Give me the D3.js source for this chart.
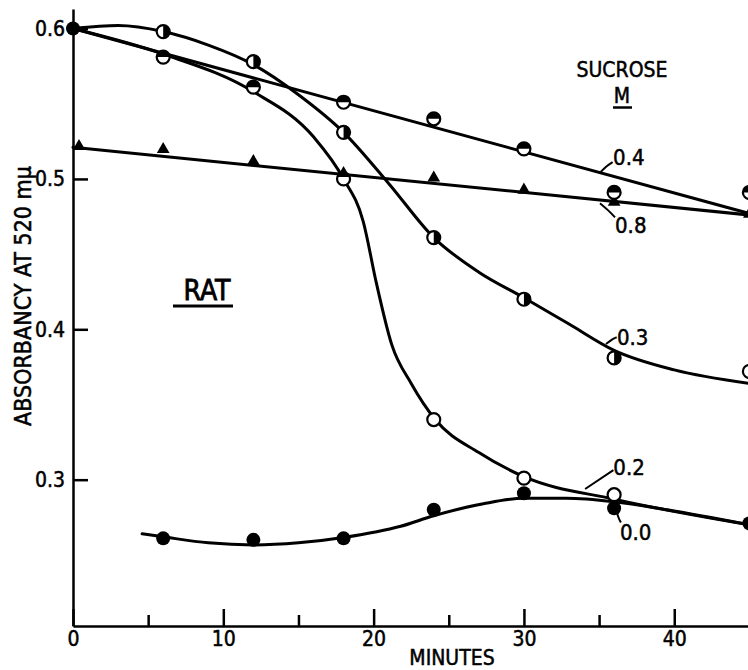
<!DOCTYPE html>
<html>
<head>
<meta charset="utf-8">
<script src="https://cdn.jsdelivr.net/npm/d3@7"></script>
<style>
    body { margin: 0; background: #fff; overflow: hidden; }
    svg { display: block; }
</style>
</head>
<body>
<svg id="chart" width="748" height="670"></svg>
<script>
// marker times (minutes) and absorbancy values
const minutes = [6, 12, 18, 24, 30, 36, 45];
const pts04 = [0.581, 0.561, 0.551, 0.540, 0.520, 0.491, 0.491];
const pts03 = [0.598, 0.578, 0.531, 0.461, 0.420, 0.381, 0.372];
const pts00 = [0.261, 0.260, 0.261, 0.280, 0.291, 0.281, 0.271];
const times02 = [18, 24, 30, 36];
const pts02 = [0.500, 0.340, 0.301, 0.290];
const times08 = [0.4, 6, 12, 18, 24, 30, 36, 45];
const pts08 = [0.521, 0.519, 0.511, 0.503, 0.500, 0.492, 0.484, 0.476];
const startPoint = [0, 0.6];

// fitted lines / curves as drawn in the figure
const line04 = { t: [0, 45], v: [0.6, 0.477] };
const line08 = { t: [0, 45], v: [0.521, 0.476] };
const curve03 = {
    t: [0, 3, 6, 9, 12, 15, 18, 21, 24, 27, 30, 33, 36, 40, 45],
    v: [0.6, 0.602, 0.598, 0.589, 0.576, 0.556, 0.531, 0.497, 0.461, 0.438, 0.421, 0.4035, 0.386, 0.373, 0.364],
};
const curve02 = {
    t: [0, 6, 12, 16, 18, 19.3, 20.2, 21.2, 22.5, 24.1, 27, 30, 36, 45],
    v: [0.6, 0.583, 0.558, 0.528, 0.5, 0.472, 0.43, 0.39, 0.364, 0.34, 0.318, 0.302, 0.287, 0.27],
};
const curve00 = {
    t: [4.6, 6, 9, 12, 15, 18.1, 21.8, 24, 27.3, 30, 32.8, 36, 39.5, 45],
    v: [0.264, 0.262, 0.258, 0.2566, 0.258, 0.2617, 0.269, 0.276, 0.284, 0.2876, 0.2876, 0.2853, 0.28, 0.27],
};

const xMajor = [0, 10, 20, 30, 40];
const xMinor = [5, 15, 25, 35];
const yTicks = [0.3, 0.4, 0.5, 0.6];

// curve labels: text anchor and leader line, in data units
const labels = [
    { text: '0.4', t: 35.93, v: 0.5092, lead: [[35.1, 0.5045], [35.45, 0.5083], [35.9, 0.5112]] },
    { text: '0.8', t: 36.06, v: 0.464, lead: [[35.06, 0.4838], [35.6, 0.4793], [36.06, 0.4745]] },
    { text: '0.3', t: 36.19, v: 0.3895, lead: [[35.46, 0.3902], [35.84, 0.3933], [36.17, 0.3947]] },
    { text: '0.2', t: 35.95, v: 0.303, lead: [[34.07, 0.2938], [35.95, 0.3064]] },
    { text: '0.0', t: 36.39, v: 0.2599, lead: [[36.2, 0.2775], [36.3, 0.2745], [36.45, 0.2715]] },
];

const font = "'DejaVu Sans Condensed', 'Liberation Sans Narrow', 'Liberation Sans', sans-serif";
const svg = d3.select('#chart');

const x = d3.scaleLinear().domain([0, 45]).range([73, 749.4]);
const y = d3.scaleLinear().domain([0.2027, 0.613]).range([626, 9]);

// axes
const xAxis = svg.append('g')
    .attr('transform', 'translate(0,626)')
    .call(d3.axisBottom(x).tickValues(xMajor).tickSize(-17).tickSizeOuter(0).tickPadding(5)
        .tickFormat(d3.format('d')));
svg.append('g')
    .attr('transform', 'translate(0,626)')
    .call(d3.axisBottom(x).tickValues(xMinor).tickSize(-11).tickSizeOuter(0).tickFormat(''))
    .select('.domain').remove();
const yAxis = svg.append('g')
    .attr('transform', 'translate(73,0)')
    .call(d3.axisLeft(y).tickValues(yTicks).tickSize(-15).tickSizeOuter(0).tickPadding(8)
        .tickFormat(d3.format('.1f')));

[xAxis, yAxis].forEach((g) => {
    g.selectAll('text').attr('font-family', font).attr('font-size', 21).attr('fill', '#000')
        .attr('stroke', '#000').attr('stroke-width', 0.5);
});
svg.selectAll('.domain, .tick line').attr('stroke', '#000').attr('stroke-width', 2.5);

// lines
const lineGen = d3.line().x(d => x(d[0])).y(d => y(d[1]));
const curveGen = d3.line().x(d => x(d[0])).y(d => y(d[1])).curve(d3.curveMonotoneX);
const pairs = s => s.t.map((t, i) => [t, s.v[i]]);

const lines = svg.append('g').attr('fill', 'none').attr('stroke', '#000').attr('stroke-width', 3)
    .attr('stroke-linecap', 'round');
lines.append('path').attr('d', lineGen(pairs(line04)));
lines.append('path').attr('d', lineGen(pairs(line08)));
lines.append('path').attr('d', curveGen(pairs(curve03)));
lines.append('path').attr('d', curveGen(pairs(curve02)));
lines.append('path').attr('d', curveGen(pairs(curve00)));

// markers
const r = 6.5;
const marks = svg.append('g');

function halfCircles(times, vals, halfPath) {
    const g = marks.selectAll(null).data(times.map((t, i) => [t, vals[i]])).join('g')
        .attr('transform', d => `translate(${x(d[0])},${y(d[1])})`);
    g.append('circle').attr('r', r).attr('fill', '#fff').attr('stroke', '#000').attr('stroke-width', 2.2);
    g.append('path').attr('d', halfPath).attr('fill', '#000');
}

// 0.2 open circles
marks.selectAll(null).data(times02.map((t, i) => [t, pts02[i]])).join('circle')
    .attr('cx', d => x(d[0])).attr('cy', d => y(d[1])).attr('r', r)
    .attr('fill', '#fff').attr('stroke', '#000').attr('stroke-width', 2.2);

// 0.8 triangles
marks.selectAll(null).data(times08.map((t, i) => [t, pts08[i]])).join('path')
    .attr('transform', d => `translate(${x(d[0])},${y(d[1]) - 1})`)
    .attr('d', d3.symbol(d3.symbolTriangle, 70))
    .attr('fill', '#000');

// 0.4 top half filled, 0.3 right half filled
halfCircles(minutes, pts04, `M${-r},0A${r},${r} 0 0 1 ${r},0Z`);
halfCircles(minutes, pts03, `M0,${-r}A${r},${r} 0 0 1 0,${r}Z`);

// 0.0 filled circles
marks.selectAll(null).data(minutes.map((t, i) => [t, pts00[i]])).join('circle')
    .attr('cx', d => x(d[0])).attr('cy', d => y(d[1])).attr('r', 7)
    .attr('fill', '#000');

// common starting point
marks.append('circle').attr('cx', x(startPoint[0])).attr('cy', y(startPoint[1])).attr('r', 7).attr('fill', '#000');

// curve labels
const ann = svg.append('g');
labels.forEach((l) => {
    ann.append('path').attr('d', d3.line().curve(d3.curveBasis)(l.lead.map(p => [x(p[0]), y(p[1])])))
        .attr('fill', 'none').attr('stroke', '#000').attr('stroke-width', 2);
    ann.append('text').attr('x', x(l.t)).attr('y', y(l.v)).text(l.text)
        .attr('font-family', font).attr('font-size', 22)
        .attr('stroke', '#000').attr('stroke-width', 0.5);
});

// titles
const txt = (xx, yy, s, size, anchor) => svg.append('text').attr('x', xx).attr('y', yy).text(s)
    .attr('font-family', font).attr('font-size', size).attr('text-anchor', anchor || 'start')
    .attr('fill', '#000').attr('stroke', '#000').attr('stroke-width', 0.5);

txt(622, 77, 'SUCROSE', 21, 'middle');
txt(622, 103, 'M', 21, 'middle');
svg.append('line').attr('x1', 613).attr('x2', 632).attr('y1', 107.5).attr('y2', 107.5)
    .attr('stroke', '#000').attr('stroke-width', 2.5);

txt(207, 300, 'RAT', 28, 'middle').attr('stroke-width', 0.8);
svg.append('line').attr('x1', 173).attr('x2', 233).attr('y1', 306).attr('y2', 306)
    .attr('stroke', '#000').attr('stroke-width', 3);

txt(452, 665, 'MINUTES', 21, 'middle');
svg.append('text')
    .attr('transform', 'translate(31,296) rotate(-90)')
    .attr('text-anchor', 'middle')
    .attr('font-family', font).attr('font-size', 23)
    .attr('stroke', '#000').attr('stroke-width', 0.5)
    .text('ABSORBANCY AT 520 mμ');
</script>
</body>
</html>
